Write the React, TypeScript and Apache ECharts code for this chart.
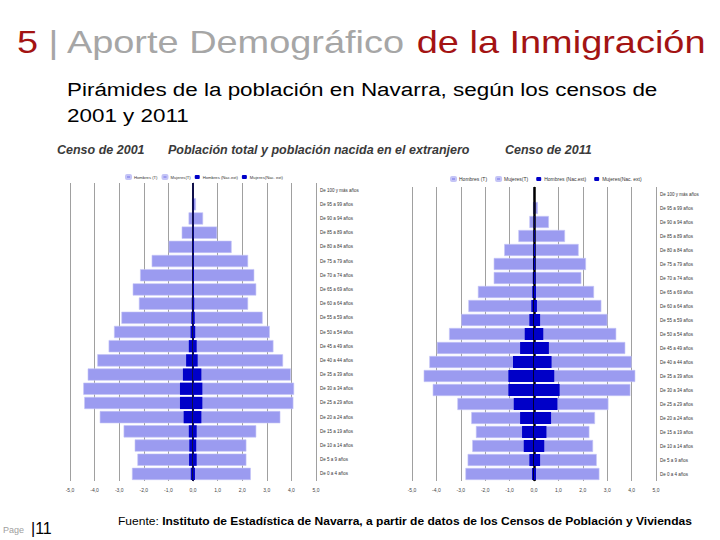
import React, { useEffect, useRef } from "react";
import * as echarts from "echarts";

// Age groups, youngest first (bottom of the pyramid)
const ageGroups = [
  "De 0 a 4 años", "De 5 a 9 años", "De 10 a 14 años", "De 15 a 19 años",
  "De 20 a 24 años", "De 25 a 29 años", "De 30 a 34 años", "De 35 a 39 años",
  "De 40 a 44 años", "De 45 a 49 años", "De 50 a 54 años", "De 55 a 59 años",
  "De 60 a 64 años", "De 65 a 69 años", "De 70 a 74 años", "De 75 a 79 años",
  "De 80 a 84 años", "De 85 a 89 años", "De 90 a 94 años", "De 95 a 99 años",
  "De 100 y más años",
];

const seriesNames = ["Hombres (T)", "Mujeres(T)", "Hombres (Nac.ext)", "Mujeres(Nac. ext)"];

// Censo 2001 (% of population)
const men2001 = [2.48, 2.26, 2.37, 2.82, 3.79, 4.42, 4.46, 4.28, 3.89, 3.43, 3.21, 2.91, 2.2, 2.45, 2.15, 1.68, 0.99, 0.46, 0.18, 0.04, 0.01];
const women2001 = [2.35, 2.17, 2.17, 2.57, 3.55, 4.08, 4.11, 3.98, 3.66, 3.27, 3.12, 2.83, 2.24, 2.57, 2.49, 2.24, 1.57, 0.98, 0.41, 0.12, 0.02];
const menExt2001 = [0.09, 0.16, 0.15, 0.17, 0.38, 0.53, 0.53, 0.41, 0.28, 0.17, 0.1, 0.07, 0.05, 0.04, 0.03, 0.03, 0.02, 0.02, 0.01, 0.01, 0];
const womenExt2001 = [0.08, 0.15, 0.13, 0.15, 0.34, 0.38, 0.38, 0.34, 0.19, 0.15, 0.09, 0.07, 0.05, 0.04, 0.04, 0.03, 0.03, 0.02, 0.01, 0.01, 0];

// Censo 2011 (% of population)
const men2011 = [2.81, 2.72, 2.53, 2.38, 2.57, 3.14, 4.15, 4.52, 4.29, 3.98, 3.48, 2.98, 2.69, 2.3, 1.65, 1.65, 1.22, 0.64, 0.19, 0.04, 0.01];
const women2011 = [2.68, 2.57, 2.42, 2.27, 2.5, 3.05, 3.95, 4.15, 4.0, 3.74, 3.37, 3.01, 2.76, 2.46, 1.94, 2.13, 1.83, 1.27, 0.61, 0.16, 0.03];
const menExt2011 = [0.08, 0.19, 0.42, 0.49, 0.57, 0.83, 1.05, 1.05, 0.86, 0.57, 0.38, 0.19, 0.11, 0.07, 0.05, 0.04, 0.03, 0.02, 0.01, 0.01, 0];
const womenExt2011 = [0.08, 0.25, 0.42, 0.51, 0.7, 0.96, 1.05, 0.83, 0.72, 0.61, 0.38, 0.25, 0.12, 0.08, 0.06, 0.05, 0.05, 0.03, 0.02, 0.01, 0];

const LIGHT = "#9b9bf0";
const DARK = "#0000c8";
const FONT = "'Liberation Sans', Arial, sans-serif";

function pyramidSeries(idx: number, men: number[], women: number[], menExt: number[], womenExt: number[], zeroColor: string, zeroWidth: number) {
  const common = {
    type: "bar",
    xAxisIndex: idx,
    yAxisIndex: idx,
    barGap: "-100%",
    barCategoryGap: "14%",
  };
  return [
    { ...common, name: seriesNames[0], data: men.map((v) => -v), itemStyle: { color: LIGHT, borderColor: "#c4c4f6", borderWidth: 0.6 } },
    { ...common, name: seriesNames[1], data: women, itemStyle: { color: LIGHT, borderColor: "#c4c4f6", borderWidth: 0.6 } },
    { ...common, name: seriesNames[2], data: menExt.map((v) => -v), itemStyle: { color: DARK } },
    {
      ...common,
      name: seriesNames[3],
      data: womenExt,
      itemStyle: { color: DARK },
      z: 5,
      markLine: {
        silent: true,
        symbol: "none",
        label: { show: false },
        lineStyle: { color: zeroColor, width: zeroWidth, type: "solid" },
        data: [{ xAxis: 0 }],
      },
    },
  ];
}

function xAxis(idx: number) {
  return {
    type: "value",
    gridIndex: idx,
    min: -5,
    max: 5,
    interval: 1,
    axisLine: { show: false },
    axisTick: { show: false },
    splitLine: { show: true, lineStyle: { color: "#a0a0a0", width: 1 } },
    axisLabel: {
      fontSize: 5,
      color: "#444",
      margin: 6,
      fontFamily: FONT,
      formatter: (v: number) => v.toFixed(1).replace(".", ","),
    },
  };
}

function yAxis(idx: number) {
  return {
    type: "category",
    gridIndex: idx,
    position: "right",
    data: ageGroups,
    axisLine: { show: true, lineStyle: { color: "#999" } },
    axisTick: { show: false },
    axisLabel: { fontSize: 4.5, color: "#333", margin: 4, fontFamily: FONT },
  };
}

export default function App() {
  const ref = useRef<HTMLDivElement>(null);
  useEffect(() => {
    if (!ref.current) return;
    const chart = echarts.init(ref.current, undefined, { renderer: "svg" });
    chart.setOption({
      animation: false,
      backgroundColor: "#ffffff",
      grid: [
        { left: 70, top: 183, width: 246, height: 298 },
        { left: 412, top: 187, width: 244, height: 294 },
      ],
      xAxis: [xAxis(0), xAxis(1)],
      yAxis: [yAxis(0), yAxis(1)],
      legend: [
        {
          left: 120, top: 169, itemWidth: 5, itemHeight: 4, itemGap: 4,
          textStyle: { fontSize: 4.2, color: "#333", fontFamily: FONT, padding: [0, 0, 0, -2] },
          data: seriesNames,
        },
        {
          left: 445, top: 171, itemWidth: 5, itemHeight: 4, itemGap: 8,
          textStyle: { fontSize: 5, color: "#333", fontFamily: FONT, padding: [0, 0, 0, -2] },
          data: seriesNames,
        },
      ],
      series: [
        ...pyramidSeries(0, men2001, women2001, menExt2001, womenExt2001, "#10104a", 2),
        ...pyramidSeries(1, men2011, women2011, menExt2011, womenExt2011, "#000000", 2.5),
      ],
      graphic: [
        {
          type: "text", x: 17, y: 42, scaleX: 1.185,
          style: {
            text: "{r|5} {g|| Aporte Demográfico} {r|de la Inmigración}",
            textVerticalAlign: "middle", textAlign: "left",
            rich: {
              r: { fontSize: 32, fontFamily: FONT, fill: "#a31313" },
              g: { fontSize: 32, fontFamily: FONT, fill: "#a6a6a6" },
            },
            font: `32px ${FONT}`,
          },
        },
        {
          type: "text", x: 67, y: 89, scaleX: 1.18,
          style: { text: "Pirámides de la población en Navarra, según los censos de", font: `19px ${FONT}`, fill: "#000", textVerticalAlign: "middle" },
        },
        {
          type: "text", x: 67, y: 115, scaleX: 1.18,
          style: { text: "2001 y 2011", font: `19px ${FONT}`, fill: "#000", textVerticalAlign: "middle" },
        },
        {
          type: "text", x: 57, y: 150,
          style: { text: "Censo de 2001", font: `italic bold 12.5px ${FONT}`, fill: "#3a3a3a", textVerticalAlign: "middle" },
        },
        {
          type: "text", x: 168, y: 150,
          style: { text: "Población total y población nacida en el extranjero", font: `italic bold 12.5px ${FONT}`, fill: "#3a3a3a", textVerticalAlign: "middle" },
        },
        {
          type: "text", x: 505, y: 150,
          style: { text: "Censo de 2011", font: `italic bold 12.5px ${FONT}`, fill: "#3a3a3a", textVerticalAlign: "middle" },
        },
        {
          type: "text", x: 3, y: 530,
          style: { text: "Page", font: `9px ${FONT}`, fill: "#a0a0a0", textVerticalAlign: "middle" },
        },
        {
          type: "text", x: 31, y: 528,
          style: { text: "|11", font: `16px ${FONT}`, fill: "#000", textVerticalAlign: "middle" },
        },
        {
          type: "text", x: 118, y: 521, scaleX: 1.095,
          style: {
            text: "{n|Fuente: }{b|Instituto de Estadística de Navarra, a partir de datos de los Censos de Población y Viviendas}",
            textVerticalAlign: "middle",
            rich: {
              n: { fontSize: 11, fontFamily: FONT, fill: "#000" },
              b: { fontSize: 11, fontFamily: FONT, fontWeight: "bold", fill: "#000" },
            },
            font: `11px ${FONT}`,
          },
        },
      ],
    });
    return () => chart.dispose();
  }, []);
  return (
    <div
      ref={ref}
      style={{ position: "absolute", left: 0, top: 0, width: 720, height: 540, background: "#fff" }}
    />
  );
}
